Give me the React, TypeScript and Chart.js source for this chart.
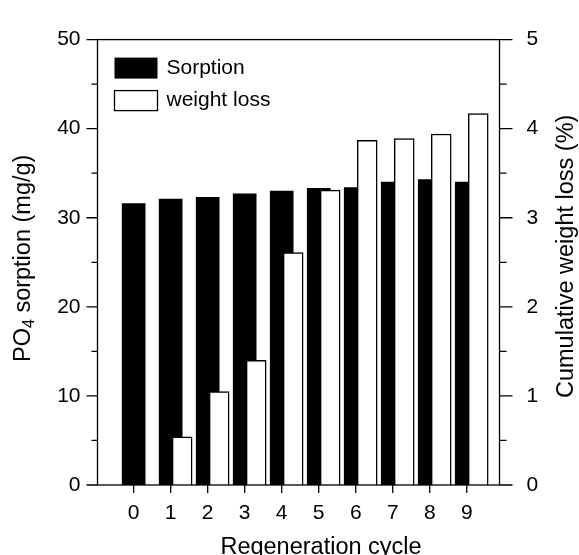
import { useEffect, useRef } from 'react';
import { Chart, registerables } from 'chart.js';

Chart.register(...registerables);

// Regeneration cycles and measured values
const cycles = [0, 1, 2, 3, 4, 5, 6, 7, 8, 9];
const sorption = [31.6, 32.1, 32.3, 32.7, 33.0, 33.3, 33.4, 34.0, 34.3, 34.0]; // mg/g
const weightLoss = [null, 0.54, 1.05, 1.40, 2.61, 3.31, 3.87, 3.89, 3.94, 4.17]; // cumulative %
const leftTicks = [0, 10, 20, 30, 40, 50];
const rightTicks = [0, 1, 2, 3, 4, 5];

const seriesNames = ['Sorption', 'weight loss'];
const xTitle = 'Regeneration cycle';
const yTitleMain = 'PO';
const yTitleSub = '4';
const yTitleRest = ' sorption (mg/g)';
const y2Title = 'Cumulative weight loss (%)';

const FONT_FAMILY = '"Liberation Sans", Arial, Helvetica, sans-serif';
const FONT_SIZE = 21;
const TITLE_SIZE = 23.5;
const WEIGHT_SHIFT = 0.31; // white bars sit to the right of the black ones

const decorations = {
  id: 'decorations',
  afterDatasetsDraw(chart: any) {
    const { ctx, chartArea: a } = chart;
    const yL = chart.scales.y;
    const yR = chart.scales.y2;
    const x = chart.scales.x;
    ctx.save();
    ctx.strokeStyle = '#000';
    ctx.fillStyle = '#000';
    ctx.lineWidth = 1.3;

    // frame
    ctx.strokeRect(a.left, a.top, a.right - a.left, a.bottom - a.top);

    // left ticks (major every 10, minor every 5)
    ctx.beginPath();
    for (let v = 0; v <= 50; v += 5) {
      const py = yL.getPixelForValue(v);
      const len = v % 10 === 0 ? 11 : 6;
      ctx.moveTo(a.left - len, py);
      ctx.lineTo(a.left, py);
    }
    // right ticks (major every 1, minor every 0.5)
    for (let k = 0; k <= 10; k++) {
      const v = k / 2;
      const py = yR.getPixelForValue(v);
      const len = k % 2 === 0 ? 13 : 7;
      ctx.moveTo(a.right, py);
      ctx.lineTo(a.right + len, py);
    }
    // bottom ticks
    for (const c of cycles) {
      const px = x.getPixelForValue(c);
      ctx.moveTo(px, a.bottom);
      ctx.lineTo(px, a.bottom + 8);
    }
    ctx.stroke();

    // legend
    const font = `${FONT_SIZE}px ${FONT_FAMILY}`;
    ctx.font = font;
    ctx.textBaseline = 'middle';
    ctx.textAlign = 'left';
    const lx = a.left + 17;
    const ly1 = a.top + 18;
    const ly2 = a.top + 51;
    const bw = 43;
    const bh = 20;
    ctx.fillStyle = '#000';
    ctx.fillRect(lx, ly1, bw, bh + 1);
    ctx.fillText(seriesNames[0], lx + bw + 9, ly1 + bh / 2 + 1);
    ctx.fillStyle = '#fff';
    ctx.fillRect(lx, ly2, bw, bh);
    ctx.lineWidth = 1.3;
    ctx.strokeRect(lx, ly2, bw, bh);
    ctx.fillStyle = '#000';
    ctx.fillText(seriesNames[1], lx + bw + 9, ly2 + bh / 2);

    // axis titles
    const titleFont = `${TITLE_SIZE}px ${FONT_FAMILY}`;
    ctx.font = titleFont;
    ctx.textAlign = 'center';
    ctx.textBaseline = 'alphabetic';
    ctx.fillText(xTitle, a.left + 0.556 * (a.right - a.left), 554);

    // left title with subscript
    const subFont = `${Math.round(TITLE_SIZE * 0.66)}px ${FONT_FAMILY}`;
    ctx.font = titleFont;
    const w1 = ctx.measureText(yTitleMain).width;
    const w3 = ctx.measureText(yTitleRest).width;
    ctx.font = subFont;
    const w2 = ctx.measureText(yTitleSub).width;
    const total = w1 + w2 + w3;
    ctx.save();
    ctx.translate(30, (a.top + a.bottom) / 2 - 4);
    ctx.rotate(-Math.PI / 2);
    ctx.textAlign = 'left';
    ctx.textBaseline = 'alphabetic';
    let cx = -total / 2;
    ctx.font = titleFont;
    ctx.fillText(yTitleMain, cx, 0);
    cx += w1;
    ctx.font = subFont;
    ctx.fillText(yTitleSub, cx, 4);
    cx += w2;
    ctx.font = titleFont;
    ctx.fillText(yTitleRest, cx, 0);
    ctx.restore();

    // right title
    ctx.save();
    ctx.translate(573, (a.top + a.bottom) / 2 - 6);
    ctx.rotate(-Math.PI / 2);
    ctx.textAlign = 'center';
    ctx.textBaseline = 'alphabetic';
    ctx.font = titleFont;
    ctx.fillText(y2Title, 0, 0);
    ctx.restore();

    ctx.restore();
  },
};

export default function App() {
  const canvasRef = useRef<HTMLCanvasElement | null>(null);

  useEffect(() => {
    const canvas = canvasRef.current;
    if (!canvas) return;
    const tickFont = { family: FONT_FAMILY, size: FONT_SIZE };
    const chart = new Chart(canvas, {
      type: 'bar',
      data: {
        datasets: [
          {
            label: seriesNames[0],
            data: cycles.map((c, i) => ({ x: c, y: sorption[i] })),
            backgroundColor: '#000',
            borderColor: '#000',
            borderWidth: 0,
            barThickness: 23,
            grouped: false,
            yAxisID: 'y',
            order: 1,
          },
          {
            label: seriesNames[1],
            data: cycles.map((c, i) => ({ x: c + WEIGHT_SHIFT, y: weightLoss[i] })),
            backgroundColor: '#fff',
            borderColor: '#000',
            borderWidth: 1.5,
            borderSkipped: 'start',
            barThickness: 20,
            grouped: false,
            yAxisID: 'y2',
            order: 0,
          },
        ],
      } as any,
      options: {
        responsive: false,
        animation: false,
        layout: { padding: { top: 20, left: 0, right: 0, bottom: 0 } },
        plugins: { legend: { display: false }, tooltip: { enabled: false } },
        scales: {
          x: {
            type: 'linear',
            position: 'bottom',
            offset: false,
            min: -0.977,
            max: 9.885,
            afterBuildTicks: (s: any) => {
              s.ticks = cycles.map((v) => ({ value: v }));
            },
            afterFit: (s: any) => {
              s.height = 70;
            },
            ticks: { font: tickFont, color: '#000', padding: 16, maxRotation: 0, autoSkip: false, callback: (v: any) => String(v) },
            grid: { display: false, drawTicks: false, offset: false },
            border: { display: false },
          },
          y: {
            type: 'linear',
            position: 'left',
            min: 0,
            max: 50,
            afterBuildTicks: (s: any) => {
              s.ticks = leftTicks.map((v) => ({ value: v }));
            },
            afterFit: (s: any) => {
              s.width = 97.5;
            },
            ticks: { font: tickFont, color: '#000', padding: 17 },
            grid: { display: false, drawTicks: false },
            border: { display: false },
          },
          y2: {
            type: 'linear',
            position: 'right',
            min: 0,
            max: 5,
            afterBuildTicks: (s: any) => {
              s.ticks = rightTicks.map((v) => ({ value: v }));
            },
            afterFit: (s: any) => {
              s.width = 79.5;
            },
            ticks: { font: tickFont, color: '#000', padding: 27 },
            grid: { display: false, drawTicks: false },
            border: { display: false },
          },
        },
      } as any,
      plugins: [decorations],
    });
    return () => chart.destroy();
  }, []);

  return (
    <div style={{ position: 'fixed', left: 0, top: 0, width: 579, height: 555, background: '#fff' }}>
      <canvas ref={canvasRef} width={579} height={555} style={{ display: 'block' }} />
    </div>
  );
}
